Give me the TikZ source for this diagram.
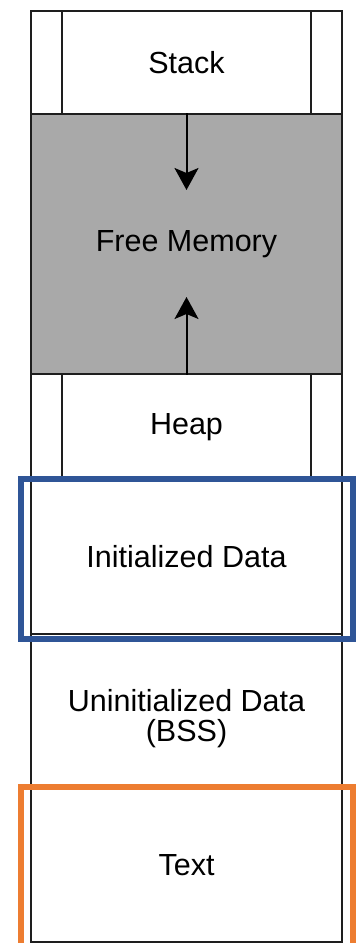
\documentclass[tikz,border=0pt]{standalone}
\usepackage{fontspec}
\setmainfont{Liberation Sans}
\usetikzlibrary{arrows.meta}
\definecolor{hlblue}{HTML}{2F5597}
\definecolor{hlorange}{HTML}{ED7D31}
\definecolor{freegray}{HTML}{A9A9A9}
\definecolor{lineblack}{HTML}{1E1E1E}
\begin{document}
\begin{tikzpicture}[x=1pt,y=-1pt,
  seg/.style={draw=lineblack, line width=1.5pt, minimum width=311pt, inner sep=0pt,
    font=\fontsize{30.5}{30}\selectfont, text=black, align=center, anchor=north},
  sideline/.style={draw=lineblack, line width=1.5pt},
  growarrow/.style={draw=black, line width=2pt, -{Stealth[length=22pt,width=24pt,inset=5pt]}},
  hlbox/.style={line width=6pt}
]
\useasboundingbox (0,0) rectangle (358,943);
\fill[white] (0,0) rectangle (358,943);

\node[seg, minimum height=103pt] (stack) at (186.5,10) {Stack};
\node[seg, minimum height=260pt, fill=freegray] (free) at (186.5,113) {Free Memory};
\node[seg, minimum height=106pt] (heap) at (186.5,373) {Heap};
\node[seg, minimum height=154pt] (init) at (186.5,479) {Initialized Data};
\node[seg, minimum height=154pt] (uninit) at (186.5,633) {};
\node[seg, minimum height=154pt] (text) at (186.5,787) {Text};
\node[font=\fontsize{30.5}{30}\selectfont, align=center, inner sep=0pt] (uninitlabel)
  at ([yshift=-8pt]uninit.center) {Uninitialized Data\\(BSS)};

% side columns of stack and heap
\draw[sideline] (62,10) -- (62,113);
\draw[sideline] (311,10) -- (311,113);
\draw[sideline] (62,373) -- (62,479);
\draw[sideline] (311,373) -- (311,479);

% growth arrows
\coordinate (downtip) at (186.5,190);
\coordinate (uptip) at (186.5,297);
\draw[growarrow] (free.north) -- (downtip);
\draw[growarrow] (free.south) -- (uptip);

% highlight boxes
\draw[hlbox, draw=hlblue] (21,479) rectangle (353,639);
\draw[hlbox, draw=hlorange] (353,960) -- (353,787) -- (21,787) -- (21,960);
\end{tikzpicture}
\end{document}
